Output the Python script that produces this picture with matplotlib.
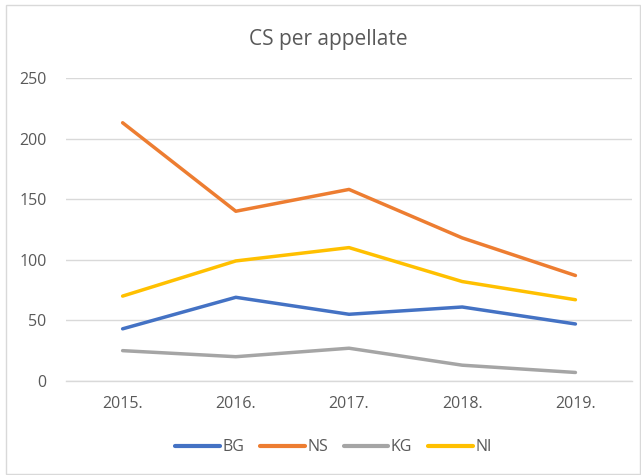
import matplotlib
matplotlib.use("Agg")
import matplotlib.pyplot as plt
from matplotlib.patches import Rectangle

years = ["2015.", "2016.", "2017.", "2018.", "2019."]
series_names = ["BG", "NS", "KG", "NI"]
bg = [43, 69, 55, 61, 47]
ns = [213, 140, 158, 118, 87]
kg = [25, 20, 27, 13, 7]
ni = [70, 99, 110, 82, 67]
colors = ["#4472C4", "#ED7D31", "#A5A5A5", "#FFC000"]
yticks = [0, 50, 100, 150, 200, 250]

plt.rcParams['font.family'] = ['Open Sans', 'DejaVu Sans']

fig = plt.figure(figsize=(6.41, 4.75), dpi=100)
ax = fig.add_axes([0.103, 0.198, 0.883, 0.638])

x = list(range(len(years)))
for vals, name, c in zip([bg, ns, kg, ni], series_names, colors):
    ax.plot(x, vals, color=c, linewidth=2.5, label=name, solid_capstyle='round', solid_joinstyle='round')

ax.set_xlim(-0.5, len(years) - 0.5)
ax.set_ylim(0, 250)
ax.set_yticks(yticks)
ax.set_xticks(x)
ax.set_xticklabels(years)
ax.grid(axis='y', color='#D9D9D9', linewidth=1)
ax.set_axisbelow(True)
for s in ['top', 'right', 'left']:
    ax.spines[s].set_visible(False)
ax.spines['bottom'].set_color('#D9D9D9')
ax.spines['bottom'].set_linewidth(1)
ax.tick_params(axis='both', length=0, colors='#595959', labelsize=11.5)
ax.tick_params(axis='y', pad=14)
ax.tick_params(axis='x', pad=11)

fig.suptitle("CS per appellate", x=0.512, y=0.94, fontsize=15, color='#595959')

leg = fig.legend(loc='center', bbox_to_anchor=(0.52, 0.058), ncol=4, frameon=False,
                 fontsize=11.5, handlelength=2.8, handletextpad=0.15, columnspacing=1.0)
for t in leg.get_texts():
    t.set_color('#595959')
for l in leg.get_lines():
    l.set_linewidth(3)

fig.patches.append(Rectangle((6/641, 1/475), 634/641, 469/475, transform=fig.transFigure,
                             fill=False, edgecolor='#D9D9D9', linewidth=1))

fig.savefig("out.png", dpi=100)
